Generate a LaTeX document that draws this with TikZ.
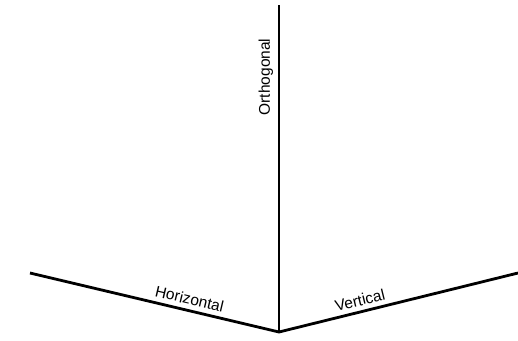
\documentclass[tikz,border=0pt]{standalone}
\usepackage{fontspec}
\setmainfont{Liberation Sans}
\usepackage{tikz}

\begin{document}
\begin{tikzpicture}[
    x=1bp,y=-1bp,
    axis line/.style={line width=2.8bp,line join=miter},
    axis label/.style={font=\fontsize{15.5bp}{16bp}\selectfont,inner sep=4.5bp,
      sloped,above}
  ]
    \useasboundingbox (0,0) rectangle (518,340);
    \coordinate (origin) at (279,332);
    \coordinate (top) at (279,5);
    \coordinate (left) at (30,273);
    \coordinate (right) at (518,273);
    \draw[axis line] (origin) -- node[axis label,pos=0.78] (ortho) {Orthogonal} (top);
    \draw[axis line] (left) -- node[axis label,pos=0.63] (horiz) {Horizontal} (origin)
      -- node[axis label,pos=0.35] (vert) {Vertical} (right);
  \end{tikzpicture}
\end{document}
